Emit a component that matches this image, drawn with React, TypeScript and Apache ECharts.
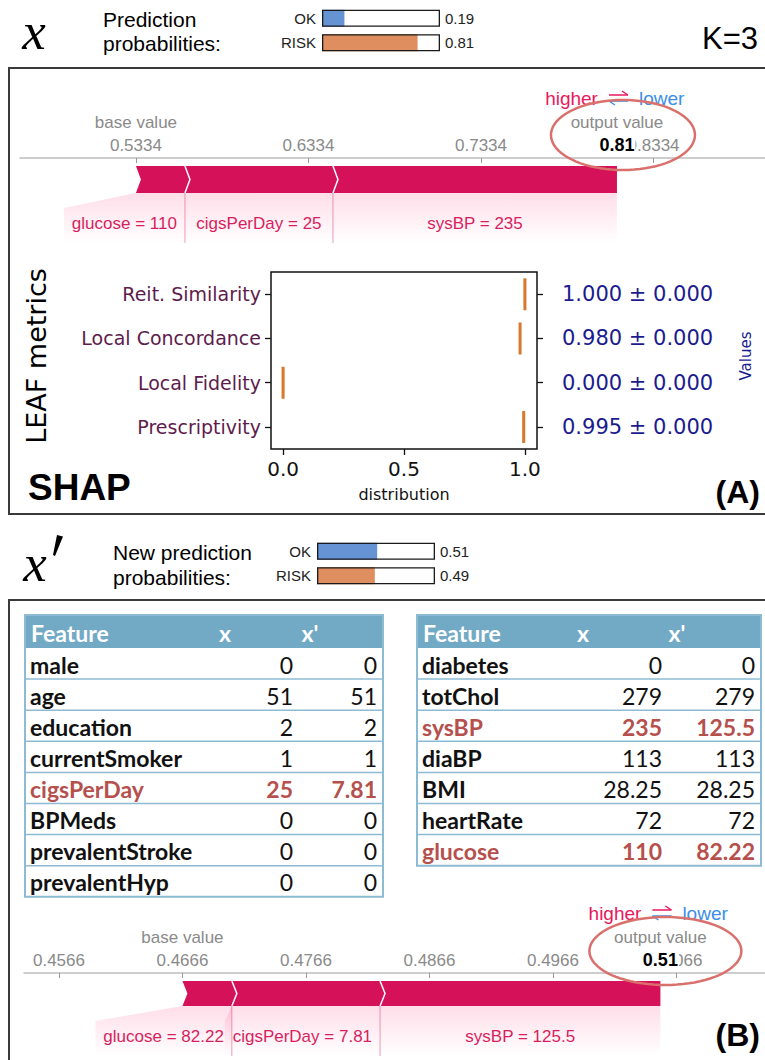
import React, { useEffect, useRef } from 'react';
import * as echarts from 'echarts';

// ---------- data ----------
const probLabels = ['OK', 'RISK'];
const probsX = [0.19, 0.81];
const probsXp = [0.51, 0.49];
const probColors = ['#6593d4', '#df8e5f'];

const forceABase = 0.5334;
const forceAFeatures = ['glucose = 110', 'cigsPerDay = 25', 'sysBP = 235'];
const forceAContrib = [0.0284, 0.0858, 0.1646];
const forceATicks = [0.5334, 0.6334, 0.7334, 0.8334];

const forceBBase = 0.4666;
const forceBFeatures = ['glucose = 82.22', 'cigsPerDay = 7.81', 'sysBP = 125.5'];
const forceBContrib = [0.004, 0.012, 0.0227];
const forceBTicks = [0.4566, 0.4666, 0.4766, 0.4866, 0.4966, 0.5066];

const metricNames = ['Reit. Similarity', 'Local Concordance', 'Local Fidelity', 'Prescriptivity'];
const metricMeans = [1.0, 0.98, 0.0, 0.995];
const metricStds = [0.0, 0.0, 0.0, 0.0];
const distTicks = [0, 0.5, 1];

const leftFeatures = ['male', 'age', 'education', 'currentSmoker', 'cigsPerDay', 'BPMeds', 'prevalentStroke', 'prevalentHyp'];
const leftX = ['0', '51', '2', '1', '25', '0', '0', '0'];
const leftXp = ['0', '51', '2', '1', '7.81', '0', '0', '0'];
const rightFeatures = ['diabetes', 'totChol', 'sysBP', 'diaBP', 'BMI', 'heartRate', 'glucose'];
const rightX = ['0', '279', '235', '113', '28.25', '72', '110'];
const rightXp = ['0', '279', '125.5', '113', '28.25', '72', '82.22'];

// ---------- helpers ----------
const SANS = '"Liberation Sans", Arial, sans-serif';
const DEJAVU = '"DejaVu Sans", sans-serif';
const LATO = 'Lato, sans-serif';
const SERIF = '"Liberation Serif", serif';
const PINK = '#d51259';
const PINK_TEXT = '#d81e5e';
const HIGHER = '#e8195d';
const LOWER = '#3b8ee8';

let measureCtx: CanvasRenderingContext2D | null = null;
function measure(t: string, font: string): number {
  if (!measureCtx) measureCtx = document.createElement('canvas').getContext('2d');
  if (!measureCtx) return t.length * 8.5;
  measureCtx.font = font;
  return measureCtx.measureText(t).width;
}

function segments(base: number, contrib: number[]) {
  const out: number[][] = [];
  let s = base;
  contrib.forEach((c, i) => {
    out.push([s, s + c, i]);
    s += c;
  });
  return out;
}

function makeSegRender(features: string[], barH: number, labelDy: number) {
  return (params: any, api: any) => {
    const i = api.value(2);
    const n = features.length;
    const xs = api.coord([api.value(0), 0])[0];
    const xe = api.coord([api.value(1), 0])[0];
    const ay = params.coordSys.y;
    const y0 = ay + 8;
    const y1 = y0 + barH;
    const ym = (y0 + y1) / 2;
    const d = 5;
    const last = i === n - 1;
    const pts = last
      ? [[xs, y0], [xe, y0], [xe, y1], [xs, y1], [xs + d, ym]]
      : [[xs, y0], [xe, y0], [xe + d, ym], [xe, y1], [xs, y1], [xs + d, ym]];
    const tw = measure(features[i], '17px ' + SANS);
    const pad = 8;
    const rs = Math.min(xs, xe - tw - 2 * pad);
    const yBot = ay + labelDy + 20;
    const region = rs < xs - 1
      ? [[xs, y1], [xe, y1], [xe, yBot], [rs, yBot], [rs, y1 + 15]]
      : [[xs, y1], [xe, y1], [xe, yBot], [xs, yBot]];
    const grad = new echarts.graphic.LinearGradient(0, 0, 0, 1, [
      { offset: 0, color: 'rgba(255,0,81,0.13)' },
      { offset: 1, color: 'rgba(255,0,81,0)' },
    ]);
    const children: any[] = [
      { type: 'polygon', shape: { points: region }, style: { fill: grad } },
      { type: 'polygon', shape: { points: pts }, style: { fill: PINK } },
      {
        type: 'text',
        style: {
          text: features[i], x: (rs + xe) / 2, y: ay + labelDy, fill: PINK_TEXT,
          fontSize: 17, fontFamily: SANS, align: 'center', verticalAlign: 'middle',
        },
      },
    ];
    if (i > 0) {
      children.push({
        type: 'polyline', shape: { points: [[xs, y0], [xs + d, ym], [xs, y1]] },
        style: { stroke: '#fff', lineWidth: 1.5, fill: 'none' },
      });
      children.push({
        type: 'line', shape: { x1: xs, y1: y1, x2: xs, y2: yBot },
        style: { stroke: 'rgba(220,40,100,0.45)', lineWidth: 1 },
      });
    }
    return { type: 'group', children };
  };
}

function makeAnnotRender(ell: number[]) {
  return (params: any, api: any) => {
    const bx = api.coord([api.value(0), 0])[0];
    const out = api.value(1);
    const ox = api.coord([out, 0])[0];
    const ay = params.coordSys.y;
    const [dx, dy, rx, ry] = ell;
    const cx = ox + dx;
    const cy = ay + dy;
    const ellPts: number[][] = [];
    for (let k = 0; k <= 80; k++) {
      const t = (k / 80) * Math.PI * 2;
      ellPts.push([cx + rx * Math.cos(t), cy + ry * Math.sin(t)]);
    }
    const gray = '#8a8a8a';
    return {
      type: 'group',
      children: [
        { type: 'text', style: { text: 'base value', x: bx, y: ay - 36, fill: gray, fontSize: 17, fontFamily: SANS, align: 'center', verticalAlign: 'middle' } },
        { type: 'text', style: { text: 'output value', x: ox, y: ay - 36, fill: gray, fontSize: 17, fontFamily: SANS, align: 'center', verticalAlign: 'middle' } },
        {
          type: 'text',
          style: {
            text: out.toFixed(2), x: ox, y: ay - 13, fill: '#000', fontSize: 18, fontWeight: 'bold',
            fontFamily: SANS, align: 'center', verticalAlign: 'middle', backgroundColor: '#fff', padding: [0, 1],
          },
        },
        { type: 'text', style: { text: 'higher', x: ox - 19, y: ay - 60, fill: HIGHER, fontSize: 19, fontFamily: SANS, align: 'right', verticalAlign: 'middle' } },
        { type: 'text', style: { text: 'lower', x: ox + 22, y: ay - 60, fill: LOWER, fontSize: 19, fontFamily: SANS, align: 'left', verticalAlign: 'middle' } },
        { type: 'line', shape: { x1: ox - 8, y1: ay - 63, x2: ox + 11, y2: ay - 63 }, style: { stroke: HIGHER, lineWidth: 1.5 } },
        { type: 'polyline', shape: { points: [[ox + 5, ay - 67], [ox + 11, ay - 63]] }, style: { stroke: HIGHER, lineWidth: 1.5, fill: 'none' } },
        { type: 'line', shape: { x1: ox - 8, y1: ay - 57, x2: ox + 11, y2: ay - 57 }, style: { stroke: LOWER, lineWidth: 1.5 } },
        { type: 'polyline', shape: { points: [[ox - 2, ay - 53], [ox - 8, ay - 57]] }, style: { stroke: LOWER, lineWidth: 1.5, fill: 'none' } },
        { type: 'polygon', shape: { points: ellPts }, style: { fill: 'none', stroke: '#d9706c', lineWidth: 2.5 } },
      ],
    };
  };
}

function txt(text: string, x: number, y: number, o: any = {}) {
  const align = o.align || 'left';
  const va = o.verticalAlign || 'middle';
  return {
    type: 'text',
    x,
    y,
    rotation: o.rotation || 0,
    z: 10,
    style: {
      text,
      x: 0,
      y: 0,
      fill: o.fill || '#000',
      fontSize: o.fontSize || 16,
      fontFamily: o.fontFamily || SANS,
      fontWeight: o.fontWeight || 'normal',
      fontStyle: o.fontStyle || 'normal',
      align,
      textAlign: align,
      verticalAlign: va,
      textVerticalAlign: va,
    },
  };
}

function buildTable(x0: number, y0: number, w: number, feats: string[], xs: string[], xps: string[], c: any) {
  const hdrH = 33;
  const rowH = 31.1;
  const h = hdrH + rowH * feats.length;
  const border = '#8dbbd3';
  const hiColor = '#b5504d';
  const fs = 23;
  const els: any[] = [];
  els.push({ type: 'rect', z: 5, shape: { x: x0, y: y0, width: w, height: hdrH }, style: { fill: '#72aac6' } });
  els.push(txt('Feature', x0 + 6, y0 + hdrH / 2 + 1, { fill: '#fff', fontSize: fs, fontWeight: 'bold', fontFamily: LATO }));
  els.push(txt('x', c.hx, y0 + hdrH / 2 + 1, { fill: '#fff', fontSize: fs, fontWeight: 'bold', fontFamily: LATO, align: 'center' }));
  els.push(txt("x'", c.hxp, y0 + hdrH / 2 + 1, { fill: '#fff', fontSize: fs, fontWeight: 'bold', fontFamily: LATO, align: 'center' }));
  feats.forEach((f, i) => {
    const y = y0 + hdrH + rowH * i;
    const cy = y + rowH / 2 + 1;
    const changed = xs[i] !== xps[i];
    const col = changed ? hiColor : '#111';
    const fw = changed ? 'bold' : 'normal';
    if (i > 0) {
      els.push({ type: 'line', z: 6, shape: { x1: x0, y1: y, x2: x0 + w, y2: y }, style: { stroke: border, lineWidth: 1.5 } });
    }
    els.push(txt(f, x0 + 5, cy, { fill: col, fontSize: fs, fontWeight: 'bold', fontFamily: LATO }));
    els.push(txt(xs[i], c.r1, cy, { fill: col, fontSize: fs, fontWeight: fw, fontFamily: LATO, align: 'right' }));
    els.push(txt(xps[i], c.r2, cy, { fill: col, fontSize: fs, fontWeight: fw, fontFamily: LATO, align: 'right' }));
  });
  els.push({ type: 'rect', z: 7, shape: { x: x0, y: y0, width: w, height: h }, style: { fill: 'none', stroke: border, lineWidth: 2 } });
  return els;
}

function probAxes(gridIndex: number) {
  return {
    x: { gridIndex, type: 'value', min: 0, max: 1, show: false },
    y: {
      gridIndex, type: 'category', data: probLabels, inverse: true,
      axisLine: { show: false, onZero: false }, axisTick: { show: false },
      axisLabel: { color: '#222', fontSize: 15, fontFamily: SANS, margin: 6 },
    },
  };
}

function probSeries(axisIndex: number, probs: number[]) {
  return [
    {
      type: 'bar', xAxisIndex: axisIndex, yAxisIndex: axisIndex + 1, barWidth: 17, silent: true,
      data: probs.map((p, i) => ({ value: p, itemStyle: { color: probColors[i] } })),
    },
    {
      type: 'bar', xAxisIndex: axisIndex, yAxisIndex: axisIndex + 1, barWidth: 17, barGap: '-100%', silent: true,
      data: probs.map(() => 1),
      itemStyle: { color: 'rgba(0,0,0,0)', borderColor: '#1a1a1a', borderWidth: 1.3 },
      label: {
        show: true, position: 'right', distance: 5, color: '#222', fontSize: 15, fontFamily: SANS,
        formatter: (p: any) => probs[p.dataIndex].toFixed(2),
      },
    },
  ];
}

function forceXAxis(gridIndex: number, min: number, max: number, ticks: number[]) {
  return {
    gridIndex, type: 'value', position: 'top', min, max,
    axisLine: { show: true, onZero: false, lineStyle: { color: '#bdbdbd', width: 1.5 } },
    axisTick: { show: true, inside: true, length: 5, customValues: ticks, lineStyle: { color: '#999', width: 1 } },
    axisLabel: {
      show: true, customValues: ticks, formatter: (v: number) => v.toFixed(4),
      color: '#8a8a8a', fontSize: 17, fontFamily: SANS, margin: 4,
    },
    splitLine: { show: false },
  };
}

export default function App() {
  const ref = useRef<HTMLDivElement>(null);
  useEffect(() => {
    if (!ref.current) return;
    const chart = echarts.init(ref.current, null, { renderer: 'svg' });
    const segA = segments(forceABase, forceAContrib);
    const segB = segments(forceBBase, forceBContrib);
    const outA = forceABase + forceAContrib.reduce((a, b) => a + b, 0);
    const outB = forceBBase + forceBContrib.reduce((a, b) => a + b, 0);
    const pA = probAxes(3);
    const pB = probAxes(4);

    const graphics: any[] = [
      { type: 'rect', shape: { x: 9, y: 68, width: 800, height: 446 }, style: { fill: 'none', stroke: '#3a3a3a', lineWidth: 2 } },
      { type: 'rect', shape: { x: 9, y: 600, width: 800, height: 500 }, style: { fill: 'none', stroke: '#3a3a3a', lineWidth: 2 } },
      txt('x', 34, 31, { fontSize: 53, fontStyle: 'italic', fontFamily: SERIF, align: 'center' }),
      txt('Prediction', 103, 19, { fontSize: 21 }),
      txt('probabilities:', 103, 43, { fontSize: 21 }),
      txt('K=3', 758, 38, { fontSize: 31, align: 'right' }),
      txt('LEAF metrics', 36, 356, { fontSize: 27, fontFamily: DEJAVU, align: 'center', rotation: Math.PI / 2 }),
      txt('Values', 746, 356, { fontSize: 15, fontFamily: DEJAVU, align: 'center', rotation: Math.PI / 2, fill: '#1b1b8f' }),
      txt('SHAP', 28, 487, { fontSize: 37, fontWeight: 'bold' }),
      txt('(A)', 760, 492, { fontSize: 32, fontWeight: 'bold', align: 'right' }),
      txt('x', 35, 563, { fontSize: 53, fontStyle: 'italic', fontFamily: SERIF, align: 'center' }),
      { type: 'polygon', z: 10, shape: { points: [[57, 535], [63, 536.5], [55, 556], [53, 555]] }, style: { fill: '#000' } },
      txt('New prediction', 113, 552, { fontSize: 21 }),
      txt('probabilities:', 113, 577, { fontSize: 21 }),
      txt('(B)', 760, 1035, { fontSize: 32, fontWeight: 'bold', align: 'right' }),
      ...buildTable(25, 615, 358, leftFeatures, leftX, leftXp, { r1: 293, r2: 377, hx: 225, hxp: 310 }),
      ...buildTable(417, 615, 344, rightFeatures, rightX, rightXp, { r1: 662, r2: 755, hx: 583, hxp: 677 }),
    ];

    chart.setOption({
      animation: false,
      backgroundColor: '#fff',
      textStyle: { fontFamily: SANS },
      grid: [
        { left: 20, top: 158, width: 745, height: 90, outerBoundsMode: 'none' },
        { left: 271, top: 272, width: 266, height: 177, show: true, borderColor: '#111', borderWidth: 1.5, backgroundColor: 'rgba(0,0,0,0)', outerBoundsMode: 'none' },
        { left: 24, top: 973, width: 741, height: 80, outerBoundsMode: 'none' },
        { left: 322, top: 6, width: 118, height: 49, outerBoundsMode: 'none' },
        { left: 317, top: 539, width: 118, height: 49, outerBoundsMode: 'none' },
      ],
      xAxis: [
        forceXAxis(0, 0.4662, 0.898, forceATicks),
        {
          gridIndex: 1, type: 'value', min: -0.05, max: 1.05,
          axisLine: { show: false, onZero: false },
          axisTick: { show: true, length: 6, customValues: distTicks, lineStyle: { color: '#111', width: 1.3 } },
          axisLabel: { show: true, customValues: distTicks, formatter: (v: number) => v.toFixed(1), color: '#111', fontSize: 20, fontFamily: DEJAVU, margin: 10 },
          splitLine: { show: false },
          name: 'distribution', nameLocation: 'middle', nameGap: 37,
          nameTextStyle: { color: '#111', fontSize: 16, fontFamily: DEJAVU },
        },
        forceXAxis(2, 0.45377, 0.51377, forceBTicks),
        pA.x,
        pB.x,
      ],
      yAxis: [
        { gridIndex: 0, type: 'value', min: 0, max: 1, show: false },
        {
          gridIndex: 1, type: 'category', data: metricNames, inverse: true,
          axisLine: { show: false, onZero: false },
          axisTick: { show: true, alignWithLabel: true, length: 6, lineStyle: { color: '#111', width: 1.3 } },
          axisLabel: { color: '#5e1c4c', fontSize: 19, fontFamily: DEJAVU, margin: 10 },
          splitLine: { show: false },
        },
        {
          gridIndex: 1, type: 'category', position: 'right', inverse: true,
          data: metricMeans.map((m, i) => `${m.toFixed(3)} \u00b1 ${metricStds[i].toFixed(3)}`),
          axisLine: { show: false, onZero: false },
          axisTick: { show: true, alignWithLabel: true, length: 6, lineStyle: { color: '#111', width: 1.3 } },
          axisLabel: { color: '#1b1b8f', fontSize: 21, fontFamily: DEJAVU, margin: 25 },
          splitLine: { show: false },
        },
        { gridIndex: 2, type: 'value', min: 0, max: 1, show: false },
        pA.y,
        pB.y,
      ],
      series: [
        { type: 'custom', xAxisIndex: 0, yAxisIndex: 0, clip: false, silent: true, data: segA, renderItem: makeSegRender(forceAFeatures, 27, 65) },
        { type: 'custom', xAxisIndex: 0, yAxisIndex: 0, clip: false, silent: true, z: 5, data: [[forceABase, outA]], renderItem: makeAnnotRender([6, -23, 72, 35]) },
        { type: 'custom', xAxisIndex: 2, yAxisIndex: 3, clip: false, silent: true, data: segB, renderItem: makeSegRender(forceBFeatures, 25, 63) },
        { type: 'custom', xAxisIndex: 2, yAxisIndex: 3, clip: false, silent: true, z: 5, data: [[forceBBase, outB]], renderItem: makeAnnotRender([5, -22, 76, 34]) },
        {
          type: 'boxplot', xAxisIndex: 1, yAxisIndex: 1, layout: 'horizontal', silent: true,
          boxWidth: [32, 32],
          data: metricMeans.map((m) => [m, m, m, m, m]),
          itemStyle: { color: 'rgba(0,0,0,0)', borderColor: '#d9782a', borderWidth: 3 },
        },
        ...probSeries(3, probsX),
        ...probSeries(4, probsXp),
      ],
      graphic: graphics,
    });
    return () => chart.dispose();
  }, []);
  return <div ref={ref} style={{ position: 'absolute', left: 0, top: 0, width: 765, height: 1060 }} />;
}
